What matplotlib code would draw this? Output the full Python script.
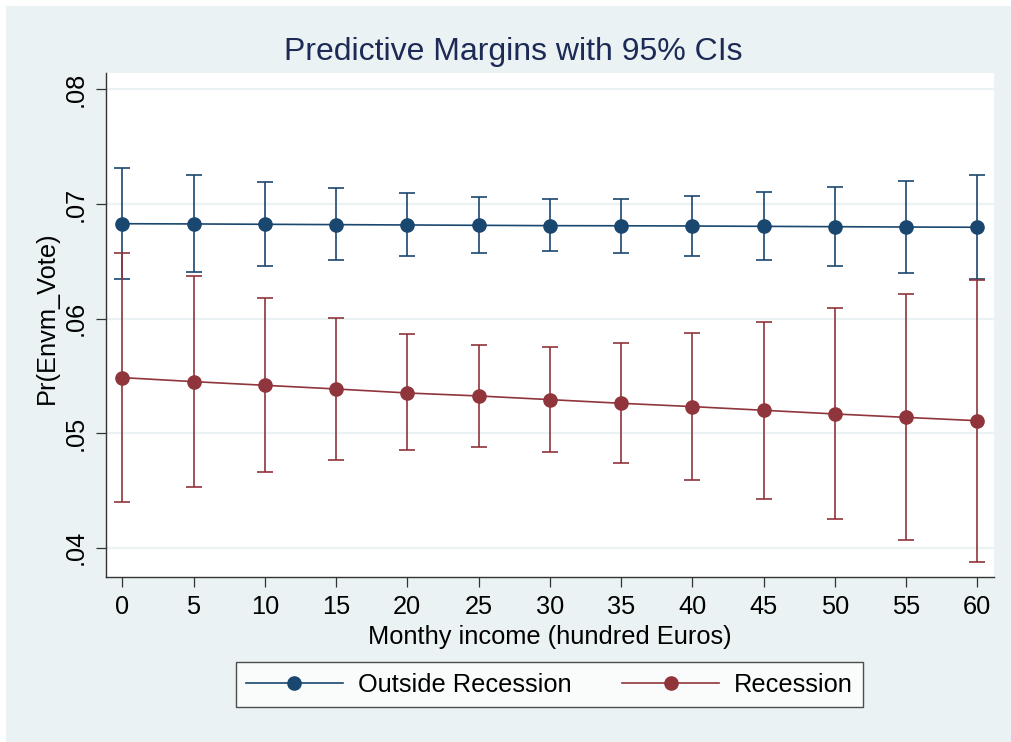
import numpy as np
import matplotlib
matplotlib.use("Agg")
import matplotlib.pyplot as plt
from matplotlib.lines import Line2D
from matplotlib.patches import Rectangle

plt.rcParams['font.family'] = ['Liberation Sans', 'DejaVu Sans']

# Monthly income (hundred Euros)
income = [0, 5, 10, 15, 20, 25, 30, 35, 40, 45, 50, 55, 60]

# Outside recession: margin and 95% CI
out_margin = [0.06828, 0.06826, 0.06823, 0.06820, 0.06817, 0.06814, 0.06811,
              0.06810, 0.06808, 0.06805, 0.06802, 0.06799, 0.06797]
out_lower = [0.06348, 0.06404, 0.06459, 0.06509, 0.06546, 0.06575, 0.06587,
             0.06575, 0.06549, 0.06509, 0.06456, 0.06401, 0.06348]
out_upper = [0.07311, 0.07253, 0.07192, 0.07137, 0.07096, 0.07058, 0.07044,
             0.07047, 0.07067, 0.07105, 0.07148, 0.07198, 0.07256]

# Recession: margin and 95% CI
rec_margin = [0.05485, 0.05450, 0.05418, 0.05386, 0.05351, 0.05325, 0.05293,
              0.05261, 0.05232, 0.05200, 0.05168, 0.05138, 0.05109]
rec_lower = [0.04400, 0.04533, 0.04661, 0.04769, 0.04851, 0.04880, 0.04839,
             0.04737, 0.04592, 0.04426, 0.04248, 0.04065, 0.03879]
rec_upper = [0.06570, 0.06372, 0.06177, 0.06002, 0.05863, 0.05770, 0.05749,
             0.05790, 0.05872, 0.05973, 0.06090, 0.06212, 0.06337]

y_ticks = [0.04, 0.05, 0.06, 0.07, 0.08]
y_ticklabels = ['.04', '.05', '.06', '.07', '.08']

blue = '#1a476f'
red = '#90353b'
bg = '#eaf2f3'

W, H = 1011, 742
fig = plt.figure(figsize=(W / 100, H / 100), dpi=100, facecolor='white')
fig.patches.append(Rectangle((6 / W, 0), 1, (H - 6) / H, transform=fig.transFigure,
                             facecolor=bg, edgecolor='none', zorder=-10))

ax = fig.add_axes([106 / W, (H - 577.3) / H, (994 - 106) / W, (577.3 - 72.7) / H])
ax.set_facecolor('white')

for yv in y_ticks:
    ax.axhline(yv, color=bg, lw=1.6, zorder=0)


def draw_ci(x, m, lo, hi, color):
    m = np.array(m)
    err = [m - np.array(lo), np.array(hi) - m]
    ax.errorbar(x, m, yerr=err, fmt='none', ecolor=color, elinewidth=1.2,
                capsize=6, capthick=1.2, zorder=2)


draw_ci(income, out_margin, out_lower, out_upper, blue)
draw_ci(income, rec_margin, rec_lower, rec_upper, red)
ax.plot(income, out_margin, '-o', color=blue, lw=1.2, ms=9.5, zorder=3)
ax.plot(income, rec_margin, '-o', color=red, lw=1.2, ms=9.5, zorder=3)

ax.set_xlim(-1.144, 61.17)
ax.set_ylim(0.037426, 0.081457)
ax.set_xticks(income)
ax.set_xticklabels([str(v) for v in income])
ax.set_yticks(y_ticks)
ax.set_yticklabels(y_ticklabels)

for s in ['top', 'right']:
    ax.spines[s].set_visible(False)
for s in ['left', 'bottom']:
    ax.spines[s].set_color('#333333')
    ax.spines[s].set_linewidth(1.0)

ax.tick_params(axis='both', length=7, width=0.9, color='#333333', labelsize=18.3,
               labelcolor='black', pad=6)
for lab in ax.get_yticklabels():
    lab.set_rotation(90)
    lab.set_va('center')

ax.set_xlabel('Monthy income (hundred Euros)', fontsize=18.3, labelpad=4)
ax.set_ylabel('Pr(Envm_Vote)', fontsize=18.3)
ax.yaxis.set_label_coords(-0.053, 0.515)

fig.text(513 / W, 1 - 52 / H, 'Predictive Margins with 95% CIs', fontsize=23,
         color='#1c2a55', ha='center', va='center')

handles = [Line2D([], [], color=blue, lw=1.2, marker='o', ms=9.5),
           Line2D([], [], color=red, lw=1.2, marker='o', ms=9.5)]
leg = fig.legend(handles, ['Outside Recession', 'Recession'], loc='center',
                 bbox_to_anchor=(549.5 / W, 1 - 684.5 / H), ncol=2, fontsize=18.3,
                 frameon=True, fancybox=False, handlelength=3.8, handletextpad=0.6,
                 columnspacing=2.0, borderpad=0.4)
leg.get_frame().set_edgecolor('#222222')
leg.get_frame().set_linewidth(1.0)
leg.get_frame().set_facecolor('white')

fig.savefig('out.png', dpi=100, facecolor='white')
